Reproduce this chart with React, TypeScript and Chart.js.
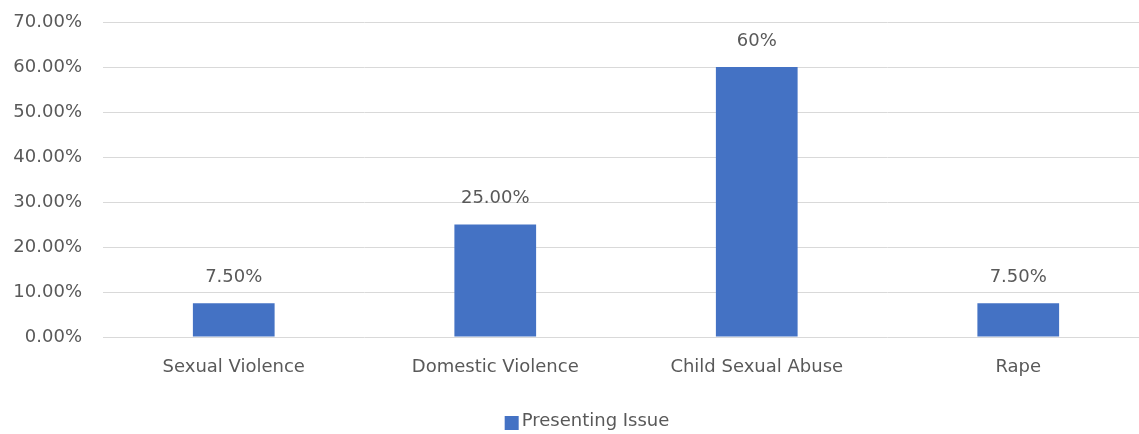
import React, { useEffect, useRef } from "react";
import { Chart, registerables } from "chart.js";

Chart.register(...registerables);

const categories = ["Sexual Violence", "Domestic Violence", "Child Sexual Abuse", "Rape"];
const values = [7.5, 25, 60, 7.5];
const valueLabels = ["7.50%", "25.00%", "60%", "7.50%"];
const seriesName = "Presenting Issue";

const FONT = "'DejaVu Sans', 'Open Sans', sans-serif";
const SIZE = 18;
const TEXT = "#595959";
const BLUE = "#4472C4";

// Writes each bar's value label just above the bar
const valueLabelPlugin = {
  id: "valueLabels",
  afterDatasetsDraw(chart: any) {
    const ctx = chart.ctx;
    const meta = chart.getDatasetMeta(0);
    ctx.save();
    ctx.font = `${SIZE}px ${FONT}`;
    ctx.fillStyle = TEXT;
    ctx.textAlign = "center";
    ctx.textBaseline = "middle";
    meta.data.forEach((bar: any, i: number) => {
      ctx.fillText(valueLabels[i], bar.x, bar.y - 26);
    });
    ctx.restore();
  },
};

// Single-entry legend centred under the chart
const bottomLegendPlugin = {
  id: "bottomLegend",
  afterDraw(chart: any) {
    const ctx = chart.ctx;
    ctx.save();
    ctx.font = `${SIZE}px ${FONT}`;
    const box = 14;
    const gap = 3;
    const textW = ctx.measureText(seriesName).width;
    const total = box + gap + textW;
    const cx = chart.width / 2;
    const cy = chart.height - 13;
    const x0 = cx - total / 2;
    ctx.fillStyle = BLUE;
    ctx.fillRect(x0, cy - box / 2 + 2, box, box);
    ctx.fillStyle = TEXT;
    ctx.textAlign = "left";
    ctx.textBaseline = "middle";
    ctx.fillText(seriesName, x0 + box + gap, cy);
    ctx.restore();
  },
};

export default function App() {
  const canvasRef = useRef<HTMLCanvasElement | null>(null);

  useEffect(() => {
    if (!canvasRef.current) return;
    const chart = new Chart(canvasRef.current, {
      type: "bar",
      data: {
        labels: categories,
        datasets: [
          {
            label: seriesName,
            data: values,
            backgroundColor: BLUE,
            borderWidth: 0,
            categoryPercentage: 1,
            barPercentage: 0.3125,
          },
        ],
      },
      options: {
        animation: false,
        responsive: true,
        maintainAspectRatio: false,
        layout: { padding: { top: 22, right: 25, bottom: 0, left: 0 } },
        scales: {
          x: {
            grid: { display: false },
            border: { display: false },
            ticks: { color: TEXT, font: { family: FONT, size: SIZE }, padding: 12 },
            afterFit: (scale: any) => {
              scale.height = 97;
              scale.paddingLeft = 0;
              scale.paddingRight = 0;
            },
          },
          y: {
            min: 0,
            max: 70,
            ticks: {
              stepSize: 10,
              color: TEXT,
              padding: 21,
              font: { family: FONT, size: SIZE },
              callback: (v: any) => Number(v).toFixed(2) + "%",
            },
            grid: { color: "#D9D9D9", lineWidth: 1, drawTicks: false },
            border: { display: false },
            afterFit: (scale: any) => {
              scale.width = 103;
              scale.paddingTop = 0;
              scale.paddingBottom = 0;
            },
          },
        },
        plugins: {
          legend: { display: false },
          tooltip: { enabled: false },
        },
      },
      plugins: [valueLabelPlugin, bottomLegendPlugin],
    });
    return () => chart.destroy();
  }, []);

  return (
    <div
      style={{
        position: "fixed",
        left: 0,
        top: 0,
        width: 1139,
        height: 434,
        overflow: "hidden",
        background: "#fff",
      }}
    >
      <div style={{ position: "relative", width: 1174, height: 434 }}>
        <canvas ref={canvasRef} />
      </div>
    </div>
  );
}
